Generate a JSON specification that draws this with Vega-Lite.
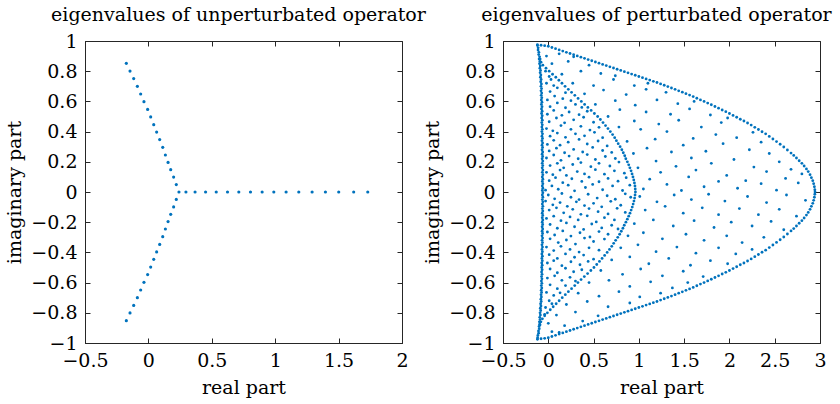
{
 "$schema": "https://vega.github.io/schema/vega-lite/v6.json",
 "padding": 5,
 "bounds": "flush",
 "spacing": 101,
 "config": {
  "font": "DejaVu Serif",
  "view": {"stroke": "#262626", "strokeWidth": 1},
  "axis": {"grid": false, "labelFont": "DejaVu Serif", "labelFontSize": 19, "labelColor": "#000", "titleFont": "DejaVu Serif", "titleFontSize": 19, "titleFontWeight": "normal", "titleColor": "#000", "domainColor": "#262626", "tickColor": "#262626", "tickSize": -5, "labelOverlap": false, "labelFlush": false},
  "axisX": {"labelPadding": 13, "titlePadding": 8},
  "axisY": {"labelPadding": 13, "titlePadding": 6},
  "title": {"font": "DejaVu Serif", "fontSize": 19, "fontWeight": "normal", "color": "#000", "offset": 7, "baseline": "alphabetic"}
 },
 "datasets": {
  "u": [
   {"re":-0.174,"im":0.852},{"re":-0.145,"im":0.801},{"re":-0.116,"im":0.751},{"re":-0.087,"im":0.7},{"re":-0.061,"im":0.649},{"re":-0.035,"im":0.598},{"re":-0.006,"im":0.547},{"re":0.018,"im":0.497},{"re":0.042,"im":0.446},{"re":0.065,"im":0.397},{"re":0.089,"im":0.347},{"re":0.113,"im":0.296},{"re":0.134,"im":0.245},{"re":0.155,"im":0.196},{"re":0.176,"im":0.148},{"re":0.199,"im":0.099},{"re":0.22,"im":0.049},
   {"re":-0.174,"im":-0.852},{"re":-0.145,"im":-0.801},{"re":-0.116,"im":-0.751},{"re":-0.087,"im":-0.7},{"re":-0.061,"im":-0.649},{"re":-0.035,"im":-0.598},{"re":-0.006,"im":-0.547},{"re":0.018,"im":-0.497},{"re":0.042,"im":-0.446},{"re":0.065,"im":-0.397},{"re":0.089,"im":-0.347},{"re":0.113,"im":-0.296},{"re":0.134,"im":-0.245},{"re":0.155,"im":-0.196},{"re":0.176,"im":-0.148},{"re":0.199,"im":-0.099},{"re":0.22,"im":-0.049},
   {"re":0.241,"im":0},{"re":0.296,"im":0},{"re":0.368,"im":0},{"re":0.451,"im":0},{"re":0.535,"im":0},{"re":0.624,"im":0},{"re":0.713,"im":0},{"re":0.805,"im":0},{"re":0.897,"im":0},{"re":0.989,"im":0},{"re":1.086,"im":0},{"re":1.186,"im":0},{"re":1.291,"im":0},{"re":1.396,"im":0},{"re":1.501,"im":0},{"re":1.619,"im":0},{"re":1.73,"im":0}
  ],
  "p": [
   {"re":-0.12,"im":0.975},{"re":-0.08,"im":0.972},{"re":-0.04,"im":0.969},{"re":0,"im":0.965},{"re":0.04,"im":0.957},{"re":0.08,"im":0.949},{"re":0.12,"im":0.941},{"re":0.16,"im":0.933},{"re":0.2,"im":0.925},{"re":0.24,"im":0.917},{"re":0.28,"im":0.909},{"re":0.32,"im":0.901},{"re":0.36,"im":0.893},{"re":0.4,"im":0.885},{"re":0.44,"im":0.877},{"re":0.48,"im":0.869},{"re":0.52,"im":0.861},{"re":0.56,"im":0.853},{"re":0.6,"im":0.845},{"re":0.64,"im":0.837},{"re":0.68,"im":0.829},{"re":0.72,"im":0.821},{"re":0.76,"im":0.813},{"re":0.8,"im":0.805},{"re":0.84,"im":0.797},{"re":0.88,"im":0.789},{"re":0.92,"im":0.781},{"re":0.96,"im":0.773},{"re":1,"im":0.765},{"re":1.04,"im":0.757},{"re":1.08,"im":0.749},{"re":1.12,"im":0.741},{"re":1.16,"im":0.733},{"re":1.2,"im":0.725},{"re":1.24,"im":0.716},{"re":1.28,"im":0.707},{"re":1.32,"im":0.698},{"re":1.36,"im":0.689},{"re":1.4,"im":0.68},{"re":1.44,"im":0.67},{"re":1.48,"im":0.661},{"re":1.52,"im":0.651},{"re":1.56,"im":0.642},{"re":1.6,"im":0.632},{"re":1.64,"im":0.621},{"re":1.68,"im":0.61},{"re":1.72,"im":0.6},{"re":1.76,"im":0.589},{"re":1.8,"im":0.578},{"re":1.84,"im":0.566},{"re":1.88,"im":0.555},{"re":1.92,"im":0.543},{"re":1.96,"im":0.532},{"re":2,"im":0.52},{"re":2.04,"im":0.507},{"re":2.08,"im":0.495},{"re":2.12,"im":0.482},{"re":2.16,"im":0.47},{"re":2.2,"im":0.457},{"re":2.24,"im":0.443},{"re":2.28,"im":0.428},{"re":2.32,"im":0.414},{"re":2.36,"im":0.399},{"re":2.4,"im":0.385},{"re":2.44,"im":0.368},{"re":2.48,"im":0.351},{"re":2.52,"im":0.334},{"re":2.56,"im":0.316},{"re":2.6,"im":0.298},{"re":2.64,"im":0.278},{"re":2.68,"im":0.258},{"re":2.71,"im":0.242},{"re":2.74,"im":0.225},{"re":2.77,"im":0.207},{"re":2.8,"im":0.19},{"re":2.825,"im":0.172},{"re":2.85,"im":0.153},{"re":2.87,"im":0.135},{"re":2.89,"im":0.115},{"re":2.905,"im":0.095},{"re":2.92,"im":0.075},{"re":2.93,"im":0.055},{"re":2.938,"im":0.035},{"re":2.943,"im":0.015},{"re":2.945,"im":0},
   {"re":-0.12,"im":-0.975},{"re":-0.08,"im":-0.972},{"re":-0.04,"im":-0.969},{"re":0,"im":-0.965},{"re":0.04,"im":-0.957},{"re":0.08,"im":-0.949},{"re":0.12,"im":-0.941},{"re":0.16,"im":-0.933},{"re":0.2,"im":-0.925},{"re":0.24,"im":-0.917},{"re":0.28,"im":-0.909},{"re":0.32,"im":-0.901},{"re":0.36,"im":-0.893},{"re":0.4,"im":-0.885},{"re":0.44,"im":-0.877},{"re":0.48,"im":-0.869},{"re":0.52,"im":-0.861},{"re":0.56,"im":-0.853},{"re":0.6,"im":-0.845},{"re":0.64,"im":-0.837},{"re":0.68,"im":-0.829},{"re":0.72,"im":-0.821},{"re":0.76,"im":-0.813},{"re":0.8,"im":-0.805},{"re":0.84,"im":-0.797},{"re":0.88,"im":-0.789},{"re":0.92,"im":-0.781},{"re":0.96,"im":-0.773},{"re":1,"im":-0.765},{"re":1.04,"im":-0.757},{"re":1.08,"im":-0.749},{"re":1.12,"im":-0.741},{"re":1.16,"im":-0.733},{"re":1.2,"im":-0.725},{"re":1.24,"im":-0.716},{"re":1.28,"im":-0.707},{"re":1.32,"im":-0.698},{"re":1.36,"im":-0.689},{"re":1.4,"im":-0.68},{"re":1.44,"im":-0.67},{"re":1.48,"im":-0.661},{"re":1.52,"im":-0.651},{"re":1.56,"im":-0.642},{"re":1.6,"im":-0.632},{"re":1.64,"im":-0.621},{"re":1.68,"im":-0.61},{"re":1.72,"im":-0.6},{"re":1.76,"im":-0.589},{"re":1.8,"im":-0.578},{"re":1.84,"im":-0.566},{"re":1.88,"im":-0.555},{"re":1.92,"im":-0.543},{"re":1.96,"im":-0.532},{"re":2,"im":-0.52},{"re":2.04,"im":-0.507},{"re":2.08,"im":-0.495},{"re":2.12,"im":-0.482},{"re":2.16,"im":-0.47},{"re":2.2,"im":-0.457},{"re":2.24,"im":-0.443},{"re":2.28,"im":-0.428},{"re":2.32,"im":-0.414},{"re":2.36,"im":-0.399},{"re":2.4,"im":-0.385},{"re":2.44,"im":-0.368},{"re":2.48,"im":-0.351},{"re":2.52,"im":-0.334},{"re":2.56,"im":-0.316},{"re":2.6,"im":-0.298},{"re":2.64,"im":-0.278},{"re":2.68,"im":-0.258},{"re":2.71,"im":-0.242},{"re":2.74,"im":-0.225},{"re":2.77,"im":-0.207},{"re":2.8,"im":-0.19},{"re":2.825,"im":-0.172},{"re":2.85,"im":-0.153},{"re":2.87,"im":-0.135},{"re":2.89,"im":-0.115},{"re":2.905,"im":-0.095},{"re":2.92,"im":-0.075},{"re":2.93,"im":-0.055},{"re":2.938,"im":-0.035},{"re":2.943,"im":-0.015},
   {"re":0.962,"im":0},{"re":0.96,"im":0.02},{"re":0.957,"im":0.04},{"re":0.951,"im":0.06},{"re":0.944,"im":0.08},{"re":0.935,"im":0.1},{"re":0.925,"im":0.12},{"re":0.914,"im":0.14},{"re":0.901,"im":0.16},{"re":0.888,"im":0.18},{"re":0.873,"im":0.2},{"re":0.856,"im":0.22},{"re":0.844,"im":0.24},{"re":0.828,"im":0.26},{"re":0.812,"im":0.28},{"re":0.793,"im":0.3},{"re":0.772,"im":0.32},{"re":0.752,"im":0.34},{"re":0.733,"im":0.36},{"re":0.71,"im":0.38},{"re":0.685,"im":0.4},{"re":0.659,"im":0.42},{"re":0.632,"im":0.44},{"re":0.604,"im":0.46},{"re":0.575,"im":0.48},{"re":0.545,"im":0.5},{"re":0.509,"im":0.52},{"re":0.473,"im":0.54},{"re":0.437,"im":0.56},{"re":0.401,"im":0.58},{"re":0.365,"im":0.6},{"re":0.329,"im":0.62},{"re":0.293,"im":0.64},{"re":0.257,"im":0.66},{"re":0.221,"im":0.68},{"re":0.185,"im":0.7},{"re":0.151,"im":0.72},{"re":0.117,"im":0.74},{"re":0.083,"im":0.76},{"re":0.047,"im":0.78},{"re":0.01,"im":0.8},{"re":-0.025,"im":0.82},{"re":-0.06,"im":0.84},{"re":-0.08,"im":0.86},{"re":-0.09,"im":0.88},
   {"re":0.958,"im":-0.02},{"re":0.953,"im":-0.04},{"re":0.946,"im":-0.06},{"re":0.937,"im":-0.08},{"re":0.927,"im":-0.1},{"re":0.915,"im":-0.12},{"re":0.902,"im":-0.14},{"re":0.888,"im":-0.16},{"re":0.873,"im":-0.18},{"re":0.857,"im":-0.2},{"re":0.839,"im":-0.22},{"re":0.824,"im":-0.24},{"re":0.806,"im":-0.26},{"re":0.788,"im":-0.28},{"re":0.767,"im":-0.3},{"re":0.744,"im":-0.32},{"re":0.722,"im":-0.34},{"re":0.701,"im":-0.36},{"re":0.676,"im":-0.38},{"re":0.65,"im":-0.4},{"re":0.622,"im":-0.42},{"re":0.594,"im":-0.44},{"re":0.565,"im":-0.46},{"re":0.535,"im":-0.48},{"re":0.504,"im":-0.5},{"re":0.47,"im":-0.52},{"re":0.434,"im":-0.54},{"re":0.398,"im":-0.56},{"re":0.362,"im":-0.58},{"re":0.327,"im":-0.6},{"re":0.292,"im":-0.62},{"re":0.257,"im":-0.64},{"re":0.222,"im":-0.66},{"re":0.188,"im":-0.68},{"re":0.154,"im":-0.7},{"re":0.12,"im":-0.72},{"re":0.087,"im":-0.74},{"re":0.054,"im":-0.76},{"re":0.022,"im":-0.78},{"re":-0.01,"im":-0.8},{"re":-0.04,"im":-0.82},{"re":-0.065,"im":-0.84},{"re":-0.082,"im":-0.86},{"re":-0.092,"im":-0.88},
   {"re":-0.12,"im":0.97},{"re":-0.112,"im":0.955},{"re":-0.113,"im":0.94},{"re":-0.104,"im":0.925},{"re":-0.106,"im":0.91},{"re":-0.096,"im":0.895},{"re":-0.101,"im":0.88},{"re":-0.093,"im":0.865},{"re":-0.097,"im":0.85},{"re":-0.089,"im":0.835},{"re":-0.093,"im":0.82},{"re":-0.086,"im":0.805},{"re":-0.09,"im":0.79},{"re":-0.082,"im":0.775},{"re":-0.087,"im":0.76},{"re":-0.079,"im":0.745},{"re":-0.084,"im":0.73},{"re":-0.076,"im":0.715},{"re":-0.081,"im":0.7},{"re":-0.074,"im":0.685},{"re":-0.08,"im":0.67},{"re":-0.073,"im":0.655},{"re":-0.078,"im":0.64},{"re":-0.072,"im":0.625},{"re":-0.077,"im":0.61},{"re":-0.07,"im":0.595},{"re":-0.076,"im":0.58},{"re":-0.069,"im":0.565},{"re":-0.075,"im":0.55},{"re":-0.068,"im":0.535},{"re":-0.074,"im":0.52},{"re":-0.067,"im":0.505},{"re":-0.073,"im":0.49},{"re":-0.066,"im":0.475},{"re":-0.072,"im":0.46},{"re":-0.066,"im":0.445},{"re":-0.071,"im":0.43},{"re":-0.065,"im":0.415},{"re":-0.071,"im":0.4},{"re":-0.064,"im":0.385},{"re":-0.07,"im":0.37},{"re":-0.064,"im":0.355},{"re":-0.07,"im":0.34},{"re":-0.063,"im":0.325},{"re":-0.069,"im":0.31},{"re":-0.063,"im":0.295},{"re":-0.069,"im":0.28},{"re":-0.062,"im":0.265},{"re":-0.068,"im":0.25},{"re":-0.062,"im":0.235},{"re":-0.068,"im":0.22},{"re":-0.061,"im":0.205},{"re":-0.067,"im":0.19},{"re":-0.061,"im":0.175},{"re":-0.067,"im":0.16},{"re":-0.06,"im":0.145},{"re":-0.066,"im":0.13},{"re":-0.06,"im":0.115},{"re":-0.066,"im":0.1},{"re":-0.06,"im":0.085},{"re":-0.066,"im":0.07},{"re":-0.06,"im":0.055},{"re":-0.066,"im":0.04},{"re":-0.06,"im":0.025},{"re":-0.066,"im":0.01},
   {"re":-0.06,"im":-0.005},{"re":-0.066,"im":-0.02},{"re":-0.06,"im":-0.035},{"re":-0.066,"im":-0.05},{"re":-0.06,"im":-0.065},{"re":-0.066,"im":-0.08},{"re":-0.06,"im":-0.095},{"re":-0.066,"im":-0.11},{"re":-0.061,"im":-0.125},{"re":-0.067,"im":-0.14},{"re":-0.061,"im":-0.155},{"re":-0.067,"im":-0.17},{"re":-0.061,"im":-0.185},{"re":-0.067,"im":-0.2},{"re":-0.062,"im":-0.215},{"re":-0.068,"im":-0.23},{"re":-0.062,"im":-0.245},{"re":-0.068,"im":-0.26},{"re":-0.063,"im":-0.275},{"re":-0.069,"im":-0.29},{"re":-0.063,"im":-0.305},{"re":-0.069,"im":-0.32},{"re":-0.064,"im":-0.335},{"re":-0.07,"im":-0.35},{"re":-0.064,"im":-0.365},{"re":-0.07,"im":-0.38},{"re":-0.065,"im":-0.395},{"re":-0.071,"im":-0.41},{"re":-0.065,"im":-0.425},{"re":-0.071,"im":-0.44},{"re":-0.066,"im":-0.455},{"re":-0.072,"im":-0.47},{"re":-0.067,"im":-0.485},{"re":-0.073,"im":-0.5},{"re":-0.068,"im":-0.515},{"re":-0.074,"im":-0.53},{"re":-0.069,"im":-0.545},{"re":-0.075,"im":-0.56},{"re":-0.07,"im":-0.575},{"re":-0.076,"im":-0.59},{"re":-0.071,"im":-0.605},{"re":-0.077,"im":-0.62},{"re":-0.072,"im":-0.635},{"re":-0.078,"im":-0.65},{"re":-0.074,"im":-0.665},{"re":-0.08,"im":-0.68},{"re":-0.076,"im":-0.695},{"re":-0.082,"im":-0.71},{"re":-0.078,"im":-0.725},{"re":-0.085,"im":-0.74},{"re":-0.081,"im":-0.755},{"re":-0.088,"im":-0.77},{"re":-0.084,"im":-0.785},{"re":-0.091,"im":-0.8},{"re":-0.087,"im":-0.815},{"re":-0.094,"im":-0.83},{"re":-0.091,"im":-0.845},{"re":-0.098,"im":-0.86},{"re":-0.095,"im":-0.875},{"re":-0.102,"im":-0.89},{"re":-0.1,"im":-0.905},{"re":-0.108,"im":-0.92},{"re":-0.107,"im":-0.935},{"re":-0.115,"im":-0.95},{"re":-0.118,"im":-0.965},
   {"re":-0.03,"im":0.012},{"re":0.04,"im":0.04},{"re":0.11,"im":0.018},{"re":0.22,"im":0.045},{"re":0.29,"im":0.008},{"re":0.41,"im":0.03},{"re":0.49,"im":0.05},{"re":0.6,"im":0.015},{"re":0.71,"im":0.04},{"re":0.82,"im":0.01},{"re":0.9,"im":0.045},
   {"re":0.01,"im":0.075},{"re":0.08,"im":0.095},{"re":0.16,"im":0.062},{"re":0.26,"im":0.088},{"re":0.37,"im":0.07},{"re":0.45,"im":0.098},{"re":0.56,"im":0.068},{"re":0.66,"im":0.09},{"re":0.77,"im":0.072},{"re":0.86,"im":0.095},
   {"re":-0.02,"im":0.13},{"re":0.05,"im":0.115},{"re":0.13,"im":0.145},{"re":0.2,"im":0.11},{"re":0.32,"im":0.135},{"re":0.4,"im":0.12},{"re":0.52,"im":0.148},{"re":0.62,"im":0.118},{"re":0.73,"im":0.14},{"re":0.84,"im":0.125},
   {"re":0.02,"im":0.175},{"re":0.1,"im":0.19},{"re":0.17,"im":0.16},{"re":0.27,"im":0.182},{"re":0.36,"im":0.195},{"re":0.47,"im":0.168},{"re":0.56,"im":0.19},{"re":0.68,"im":0.172},{"re":0.78,"im":0.198},
   {"re":-0.02,"im":0.225},{"re":0.06,"im":0.245},{"re":0.14,"im":0.21},{"re":0.23,"im":0.238},{"re":0.33,"im":0.22},{"re":0.43,"im":0.248},{"re":0.52,"im":0.215},{"re":0.63,"im":0.235},{"re":0.74,"im":0.222},
   {"re":0.01,"im":0.272},{"re":0.09,"im":0.29},{"re":0.18,"im":0.26},{"re":0.28,"im":0.282},{"re":0.38,"im":0.265},{"re":0.49,"im":0.295},{"re":0.6,"im":0.275},{"re":0.7,"im":0.262},
   {"re":-0.01,"im":0.315},{"re":0.06,"im":0.342},{"re":0.13,"im":0.31},{"re":0.22,"im":0.33},{"re":0.34,"im":0.348},{"re":0.43,"im":0.318},{"re":0.55,"im":0.338},{"re":0.65,"im":0.305},
   {"re":0.02,"im":0.37},{"re":0.1,"im":0.39},{"re":0.19,"im":0.362},{"re":0.3,"im":0.385},{"re":0.4,"im":0.372},{"re":0.51,"im":0.395},{"re":0.6,"im":0.36},
   {"re":-0.02,"im":0.42},{"re":0.05,"im":0.405},{"re":0.14,"im":0.44},{"re":0.25,"im":0.415},{"re":0.36,"im":0.435},{"re":0.46,"im":0.41},{"re":0.56,"im":0.428},
   {"re":0.01,"im":0.465},{"re":0.09,"im":0.49},{"re":0.18,"im":0.458},{"re":0.28,"im":0.478},{"re":0.39,"im":0.495},{"re":0.5,"im":0.462},
   {"re":-0.01,"im":0.515},{"re":0.06,"im":0.54},{"re":0.15,"im":0.508},{"re":0.23,"im":0.53},{"re":0.34,"im":0.512},{"re":0.43,"im":0.535},
   {"re":0.02,"im":0.565},{"re":0.1,"im":0.59},{"re":0.19,"im":0.558},{"re":0.3,"im":0.58},{"re":0.37,"im":0.56},
   {"re":-0.01,"im":0.61},{"re":0.07,"im":0.635},{"re":0.16,"im":0.618},{"re":0.25,"im":0.605},
   {"re":0.02,"im":0.665},{"re":0.1,"im":0.69},{"re":0.19,"im":0.658},
   {"re":-0.02,"im":0.72},{"re":0.06,"im":0.705},{"re":0.03,"im":0.745},
   {"re":0.01,"im":0.765},{"re":-0.03,"im":0.8},
   {"re":0,"im":-0.02},{"re":0.07,"im":-0.045},{"re":0.15,"im":-0.01},{"re":0.25,"im":-0.035},{"re":0.34,"im":-0.05},{"re":0.44,"im":-0.015},{"re":0.54,"im":-0.04},{"re":0.65,"im":-0.025},{"re":0.74,"im":-0.048},{"re":0.85,"im":-0.012},{"re":0.91,"im":-0.035},
   {"re":-0.03,"im":-0.06},{"re":0.05,"im":-0.085},{"re":0.13,"im":-0.07},{"re":0.21,"im":-0.095},{"re":0.31,"im":-0.065},{"re":0.4,"im":-0.09},{"re":0.5,"im":-0.075},{"re":0.59,"im":-0.098},{"re":0.69,"im":-0.062},{"re":0.8,"im":-0.088},
   {"re":0.01,"im":-0.12},{"re":0.09,"im":-0.105},{"re":0.17,"im":-0.138},{"re":0.27,"im":-0.115},{"re":0.36,"im":-0.148},{"re":0.45,"im":-0.11},{"re":0.55,"im":-0.13},{"re":0.66,"im":-0.145},{"re":0.76,"im":-0.108},{"re":0.85,"im":-0.135},
   {"re":-0.02,"im":-0.175},{"re":0.06,"im":-0.16},{"re":0.14,"im":-0.19},{"re":0.24,"im":-0.165},{"re":0.33,"im":-0.185},{"re":0.43,"im":-0.158},{"re":0.53,"im":-0.198},{"re":0.62,"im":-0.17},{"re":0.73,"im":-0.185},
   {"re":0.02,"im":-0.215},{"re":0.1,"im":-0.24},{"re":0.2,"im":-0.205},{"re":0.29,"im":-0.23},{"re":0.39,"im":-0.248},{"re":0.48,"im":-0.212},{"re":0.59,"im":-0.238},{"re":0.7,"im":-0.22},{"re":0.77,"im":-0.245},
   {"re":-0.01,"im":-0.265},{"re":0.07,"im":-0.285},{"re":0.16,"im":-0.258},{"re":0.25,"im":-0.292},{"re":0.35,"im":-0.27},{"re":0.46,"im":-0.298},{"re":0.56,"im":-0.262},{"re":0.66,"im":-0.28},
   {"re":0.02,"im":-0.31},{"re":0.11,"im":-0.335},{"re":0.2,"im":-0.318},{"re":0.3,"im":-0.345},{"re":0.4,"im":-0.305},{"re":0.5,"im":-0.328},{"re":0.62,"im":-0.312},
   {"re":-0.02,"im":-0.365},{"re":0.06,"im":-0.388},{"re":0.14,"im":-0.36},{"re":0.24,"im":-0.38},{"re":0.34,"im":-0.398},{"re":0.45,"im":-0.37},{"re":0.56,"im":-0.385},
   {"re":0.01,"im":-0.415},{"re":0.1,"im":-0.44},{"re":0.19,"im":-0.41},{"re":0.29,"im":-0.432},{"re":0.39,"im":-0.418},{"re":0.5,"im":-0.445},
   {"re":-0.01,"im":-0.47},{"re":0.06,"im":-0.455},{"re":0.15,"im":-0.488},{"re":0.25,"im":-0.462},{"re":0.35,"im":-0.482},{"re":0.44,"im":-0.46},
   {"re":0.02,"im":-0.51},{"re":0.1,"im":-0.535},{"re":0.19,"im":-0.505},{"re":0.28,"im":-0.528},{"re":0.37,"im":-0.515},
   {"re":-0.01,"im":-0.57},{"re":0.07,"im":-0.555},{"re":0.15,"im":-0.585},{"re":0.24,"im":-0.565},{"re":0.3,"im":-0.59},
   {"re":0.02,"im":-0.615},{"re":0.1,"im":-0.64},{"re":0.19,"im":-0.62},
   {"re":-0.02,"im":-0.665},{"re":0.06,"im":-0.685},{"re":0.13,"im":-0.668},
   {"re":0.01,"im":-0.72},{"re":0.04,"im":-0.74},
   {"re":-0.03,"im":-0.765},{"re":-0.04,"im":-0.81},
   {"re":1.05,"im":0.02},{"re":1.31,"im":0.05},{"re":1.47,"im":0.01},{"re":1.72,"im":0.035},{"re":1.88,"im":0.07},{"re":2.09,"im":0.025},{"re":2.35,"im":0.055},{"re":2.52,"im":0.012},{"re":2.76,"im":0.06},
   {"re":1.12,"im":0.085},{"re":1.24,"im":0.13},{"re":1.55,"im":0.1},{"re":1.63,"im":0.145},{"re":1.97,"im":0.11},{"re":2.18,"im":0.075},{"re":2.41,"im":0.135},{"re":2.62,"im":0.09},{"re":2.8,"im":0.12},
   {"re":0.99,"im":0.16},{"re":1.19,"im":0.205},{"re":1.41,"im":0.17},{"re":1.8,"im":0.19},{"re":2.05,"im":0.215},{"re":2.27,"im":0.165},{"re":2.55,"im":0.2},{"re":2.68,"im":0.15},{"re":1.58,"im":0.225},
   {"re":0.94,"im":0.255},{"re":1.09,"im":0.29},{"re":1.36,"im":0.265},{"re":1.49,"im":0.31},{"re":1.74,"im":0.27},{"re":1.93,"im":0.32},{"re":2.22,"im":0.28},{"re":2.44,"im":0.255},{"re":2.35,"im":0.33},
   {"re":0.87,"im":0.335},{"re":1.18,"im":0.35},{"re":1.31,"im":0.4},{"re":1.6,"im":0.355},{"re":1.85,"im":0.38},{"re":2.08,"im":0.36},{"re":2.26,"im":0.395},{"re":1.02,"im":0.415},
   {"re":0.78,"im":0.43},{"re":0.95,"im":0.47},{"re":1.22,"im":0.45},{"re":1.44,"im":0.475},{"re":1.69,"im":0.43},{"re":1.91,"im":0.46},{"re":1.98,"im":0.49},
   {"re":0.66,"im":0.5},{"re":0.79,"im":0.545},{"re":1.08,"im":0.53},{"re":1.35,"im":0.515},{"re":1.56,"im":0.55},{"re":1.79,"im":0.51},
   {"re":0.52,"im":0.58},{"re":0.74,"im":0.605},{"re":0.96,"im":0.575},{"re":1.2,"im":0.61},{"re":1.43,"im":0.585},{"re":1.61,"im":0.6},
   {"re":0.4,"im":0.65},{"re":0.61,"im":0.675},{"re":0.86,"im":0.645},{"re":1.08,"im":0.68},{"re":1.3,"im":0.66},
   {"re":0.27,"im":0.72},{"re":0.5,"im":0.705},{"re":0.72,"im":0.745},{"re":0.95,"im":0.705},{"re":1.1,"im":0.72},
   {"re":0.15,"im":0.78},{"re":0.36,"im":0.8},{"re":0.58,"im":0.785},{"re":0.74,"im":0.77},
   {"re":0.04,"im":0.85},{"re":0.22,"im":0.865},{"re":0.45,"im":0.84},
   {"re":-0.02,"im":0.9},{"re":0.12,"im":0.915},{"re":0.28,"im":0.895},
   {"re":1.01,"im":-0.03},{"re":1.2,"im":-0.065},{"re":1.39,"im":-0.02},{"re":1.58,"im":-0.05},{"re":1.77,"im":-0.015},{"re":1.95,"im":-0.06},{"re":2.2,"im":-0.03},{"re":2.41,"im":-0.07},{"re":2.63,"im":-0.02},{"re":2.84,"im":-0.055},
   {"re":1.07,"im":-0.12},{"re":1.29,"im":-0.095},{"re":1.49,"im":-0.14},{"re":1.7,"im":-0.105},{"re":1.88,"im":-0.15},{"re":2.11,"im":-0.11},{"re":2.32,"im":-0.15},{"re":2.55,"im":-0.115},{"re":2.74,"im":-0.16},
   {"re":0.95,"im":-0.21},{"re":1.16,"im":-0.185},{"re":1.38,"im":-0.225},{"re":1.61,"im":-0.19},{"re":1.83,"im":-0.235},{"re":2.02,"im":-0.2},{"re":2.25,"im":-0.225},{"re":2.46,"im":-0.195},{"re":2.6,"im":-0.25},
   {"re":0.88,"im":-0.29},{"re":1.05,"im":-0.27},{"re":1.26,"im":-0.31},{"re":1.52,"im":-0.28},{"re":1.72,"im":-0.32},{"re":1.97,"im":-0.29},{"re":2.14,"im":-0.335},{"re":2.38,"im":-0.3},
   {"re":0.8,"im":-0.37},{"re":0.99,"im":-0.35},{"re":1.19,"im":-0.395},{"re":1.42,"im":-0.365},{"re":1.63,"im":-0.405},{"re":1.88,"im":-0.37},{"re":2.07,"im":-0.41},{"re":2.25,"im":-0.38},
   {"re":0.7,"im":-0.45},{"re":0.9,"im":-0.43},{"re":1.11,"im":-0.475},{"re":1.33,"im":-0.44},{"re":1.57,"im":-0.485},{"re":1.79,"im":-0.455},{"re":1.98,"im":-0.475},
   {"re":0.58,"im":-0.52},{"re":0.82,"im":-0.545},{"re":1.02,"im":-0.51},{"re":1.26,"im":-0.555},{"re":1.49,"im":-0.525},{"re":1.71,"im":-0.56},
   {"re":0.45,"im":-0.6},{"re":0.67,"im":-0.585},{"re":0.9,"im":-0.625},{"re":1.13,"im":-0.595},{"re":1.37,"im":-0.635},{"re":1.54,"im":-0.6},
   {"re":0.33,"im":-0.67},{"re":0.56,"im":-0.69},{"re":0.78,"im":-0.66},{"re":1.01,"im":-0.695},{"re":1.24,"im":-0.67},
   {"re":0.2,"im":-0.745},{"re":0.43,"im":-0.725},{"re":0.66,"im":-0.76},{"re":0.9,"im":-0.735},
   {"re":0.09,"im":-0.815},{"re":0.3,"im":-0.795},{"re":0.55,"im":-0.82},
   {"re":0,"im":-0.87},{"re":0.18,"im":-0.885},{"re":0.38,"im":-0.855},
   {"re":0.04,"im":-0.925},{"re":0.12,"im":-0.93}
  ]
 },
 "hconcat": [
  {
   "width": 317, "height": 302,
   "title": {"text": "eigenvalues of unperturbated operator", "dx": -5},
   "data": {"name": "u"},
   "layer": [
    {
     "mark": {"type": "circle", "size": 10, "color": "#0072BD", "opacity": 1},
     "encoding": {
      "x": {"field": "re", "type": "quantitative", "scale": {"domain": [-0.5, 2], "nice": false, "zero": false},
            "axis": {"orient": "bottom", "title": "real part", "values": [-0.5, 0, 0.5, 1, 1.5, 2], "format": "~g",
                     "labelExpr": "datum.value < 0 ? datum.label + '\u00a0\u00a0\u00a0' : datum.label"}},
      "y": {"field": "im", "type": "quantitative", "scale": {"domain": [-1, 1], "nice": false, "zero": false},
            "axis": {"orient": "left", "title": "imaginary part", "values": [-1, -0.8, -0.6, -0.4, -0.2, 0, 0.2, 0.4, 0.6, 0.8, 1], "format": "~g"}}
     }
    },
    {
     "mark": {"type": "circle", "size": 10, "opacity": 0},
     "encoding": {
      "x": {"field": "re", "type": "quantitative", "scale": {"domain": [-0.5, 2], "nice": false, "zero": false},
            "axis": {"orient": "top", "title": null, "labels": false, "domain": false, "values": [-0.5, 0, 0.5, 1, 1.5, 2]}},
      "y": {"field": "im", "type": "quantitative", "scale": {"domain": [-1, 1], "nice": false, "zero": false},
            "axis": {"orient": "right", "title": null, "labels": false, "domain": false, "values": [-1, -0.8, -0.6, -0.4, -0.2, 0, 0.2, 0.4, 0.6, 0.8, 1]}}
     }
    }
   ],
   "resolve": {"axis": {"x": "independent", "y": "independent"}}
  },
  {
   "width": 317, "height": 302,
   "title": {"text": "eigenvalues of perturbated operator", "dx": -5},
   "data": {"name": "p"},
   "layer": [
    {
     "mark": {"type": "circle", "size": 8, "color": "#0072BD", "opacity": 1},
     "encoding": {
      "x": {"field": "re", "type": "quantitative", "scale": {"domain": [-0.5, 3], "nice": false, "zero": false},
            "axis": {"orient": "bottom", "title": "real part", "values": [-0.5, 0, 0.5, 1, 1.5, 2, 2.5, 3], "format": "~g",
                     "labelExpr": "datum.value < 0 ? datum.label + '\u00a0\u00a0\u00a0' : datum.label"}},
      "y": {"field": "im", "type": "quantitative", "scale": {"domain": [-1, 1], "nice": false, "zero": false},
            "axis": {"orient": "left", "title": "imaginary part", "values": [-1, -0.8, -0.6, -0.4, -0.2, 0, 0.2, 0.4, 0.6, 0.8, 1], "format": "~g"}}
     }
    },
    {
     "mark": {"type": "circle", "size": 8, "opacity": 0},
     "encoding": {
      "x": {"field": "re", "type": "quantitative", "scale": {"domain": [-0.5, 3], "nice": false, "zero": false},
            "axis": {"orient": "top", "title": null, "labels": false, "domain": false, "values": [-0.5, 0, 0.5, 1, 1.5, 2, 2.5, 3]}},
      "y": {"field": "im", "type": "quantitative", "scale": {"domain": [-1, 1], "nice": false, "zero": false},
            "axis": {"orient": "right", "title": null, "labels": false, "domain": false, "values": [-1, -0.8, -0.6, -0.4, -0.2, 0, 0.2, 0.4, 0.6, 0.8, 1]}}
     }
    }
   ],
   "resolve": {"axis": {"x": "independent", "y": "independent"}}
  }
 ]
}
